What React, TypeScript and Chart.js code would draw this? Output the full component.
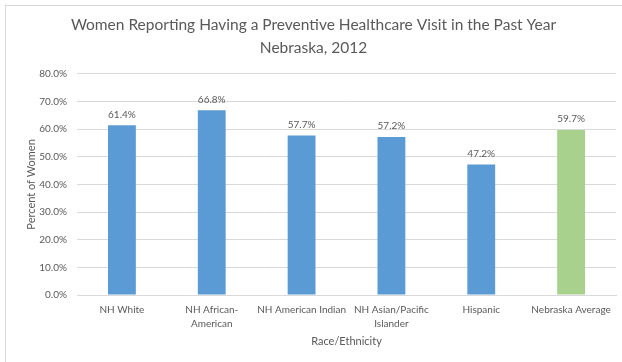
import React, { useEffect, useRef } from "react";
import { Chart, registerables } from "chart.js";

Chart.register(...registerables);

const categories: (string | string[])[] = [
  "NH White",
  ["NH African-", "American"],
  "NH American Indian",
  ["NH Asian/Pacific", "Islander"],
  "Hispanic",
  "Nebraska Average",
];
const values = [61.4, 66.8, 57.7, 57.2, 47.2, 59.7];
const barColors = ["#5B9BD5", "#5B9BD5", "#5B9BD5", "#5B9BD5", "#5B9BD5", "#A9D18E"];
const titleLines = [
  "Women Reporting Having a Preventive Healthcare Visit in the Past Year",
  "Nebraska, 2012",
];
const yAxisTitle = "Percent of Women";
const xAxisTitle = "Race/Ethnicity";

const FONT = "Lato, 'Open Sans', sans-serif";
const TEXT = "#595959";

const dataLabels = {
  id: "dataLabels",
  afterDatasetsDraw(chart: any) {
    const ctx = chart.ctx;
    const meta = chart.getDatasetMeta(0);
    ctx.save();
    ctx.font = `10px ${FONT}`;
    ctx.fillStyle = TEXT;
    ctx.textAlign = "center";
    ctx.textBaseline = "bottom";
    meta.data.forEach((bar: any, i: number) => {
      const v = chart.data.datasets[0].data[i] as number;
      ctx.fillText(v.toFixed(1) + "%", bar.x, bar.y - 6);
    });
    ctx.restore();
  },
};

export default function App() {
  const ref = useRef<HTMLCanvasElement | null>(null);
  useEffect(() => {
    if (!ref.current) return;
    const chart = new Chart(ref.current, {
      type: "bar",
      data: {
        labels: categories,
        datasets: [
          {
            data: values,
            backgroundColor: barColors,
            categoryPercentage: 1,
            barPercentage: 0.31,
          },
        ],
      },
      options: {
        animation: false,
        responsive: false,
        maintainAspectRatio: false,
        layout: { padding: { left: 11, right: 6, top: 6, bottom: 14 } },
        plugins: {
          legend: { display: false },
          tooltip: { enabled: false },
          title: {
            display: true,
            text: titleLines,
            color: TEXT,
            font: { family: FONT, size: 15.5, weight: "normal", lineHeight: 1.48 },
            padding: { top: 8, bottom: 14 },
          },
        },
        scales: {
          x: {
            grid: { display: false, drawTicks: false },
            border: { display: true, color: "#D9D9D9" },
            ticks: {
              color: TEXT,
              font: { family: FONT, size: 10, lineHeight: 1.4 },
              maxRotation: 0,
              autoSkip: false,
              padding: 8,
            },
            title: {
              display: true,
              text: xAxisTitle,
              color: TEXT,
              font: { family: FONT, size: 11 },
              padding: { top: 4, bottom: 0 },
            },
            afterFit: (scale: any) => {
              scale.height = 53;
            },
          },
          y: {
            min: 0,
            max: 80,
            ticks: {
              stepSize: 10,
              color: TEXT,
              font: { family: FONT, size: 10 },
              padding: 10,
              callback: (v: any) => Number(v).toFixed(1) + "%",
            },
            grid: { color: "#D9D9D9", drawTicks: false },
            border: { display: false },
            title: {
              display: true,
              text: yAxisTitle,
              color: TEXT,
              font: { family: FONT, size: 11 },
              padding: { top: 14, bottom: 2 },
            },
            afterFit: (scale: any) => {
              scale.width = 66;
            },
          },
        },
      },
      plugins: [dataLabels],
    });
    return () => chart.destroy();
  }, []);
  return (
    <div
      style={{
        position: "absolute",
        left: 0,
        top: 0,
        width: 622,
        height: 362,
        background: "#fff",
        overflow: "hidden",
      }}
    >
      <div
        style={{
          position: "absolute",
          left: 5,
          top: 5,
          width: 640,
          height: 380,
          border: "1px solid #D9D9D9",
          boxSizing: "border-box",
        }}
      />
      <canvas ref={ref} width={622} height={362} style={{ position: "absolute", left: 0, top: 0 }} />
    </div>
  );
}
